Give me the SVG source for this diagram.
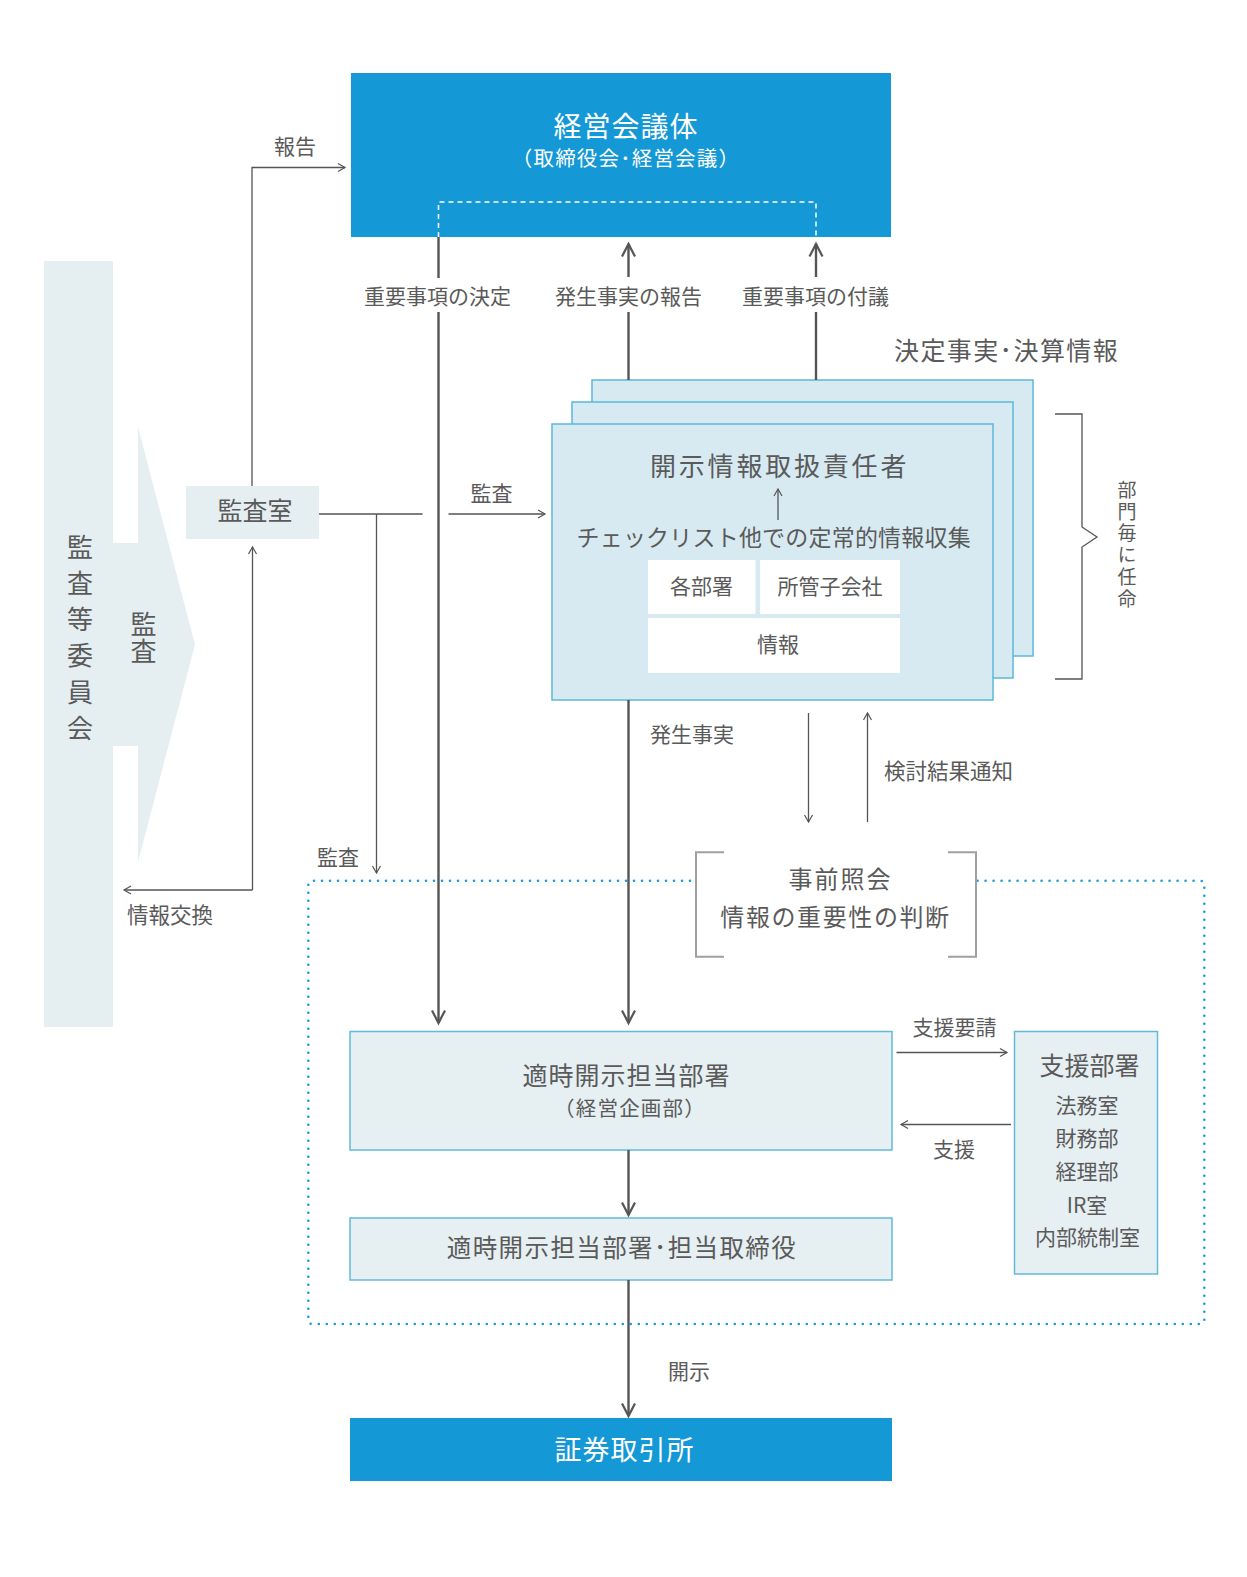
<svg xmlns="http://www.w3.org/2000/svg" width="1247" height="1577" viewBox="0 0 1247 1577">
<style>
text{font-family:"Noto Sans CJK JP","Noto Sans",sans-serif;fill:#5a5a5a;}
.w{fill:#ffffff;}
.mid{text-anchor:middle;}
.vt{writing-mode:vertical-rl;}
.blue{fill:#1598d6;}
.band{fill:#e5eff2;}
.stack{fill:#d7eaf2;stroke:#5bb8d8;stroke-width:1.5;}
.box{fill:#e6eff2;stroke:#62bada;stroke-width:1.5;}
.wb{fill:#ffffff;}
.thick{fill:none;stroke:#555;stroke-width:2.4;}
.thin{fill:none;stroke:#555;stroke-width:1.3;}
.brk{fill:none;stroke:#a0a0a0;stroke-width:2;}
.dot{fill:none;stroke:#1a9ad8;stroke-width:2.6;stroke-dasharray:0 8;stroke-linecap:round;}
.dash{fill:none;stroke:#ffffff;stroke-width:1.5;stroke-dasharray:5 4;}
</style>
<defs>
<marker id="ah" viewBox="-15 -9 18 18" refX="0" refY="0" markerWidth="18" markerHeight="18" orient="auto" markerUnits="userSpaceOnUse" style="overflow:visible"><path d="M-12.5,-6.5 L0,0 L-12.5,6.5" fill="none" stroke="#555" stroke-width="2.2"/></marker>
<marker id="at" viewBox="-9 -6 11 12" refX="0" refY="0" markerWidth="11" markerHeight="12" orient="auto" markerUnits="userSpaceOnUse" style="overflow:visible"><path d="M-7,-4 L0,0 L-7,4" fill="none" stroke="#555" stroke-width="1.2"/></marker>
</defs>
<rect width="1247" height="1577" fill="#ffffff"/>

<g id="audit-committee">
<rect class="band" x="44" y="261" width="69" height="766"/>
<polygon class="band" points="112,543 138,543 138,427 195,644.5 138,862 138,746 112,746"/>
<text x="80" y="534" class="vt" font-size="26" letter-spacing="10.2">監査等委員会</text>
<text x="143.5" y="611" class="vt" font-size="26" letter-spacing="1.2">監査</text>
</g>

<g id="audit-office">
<rect class="band" x="186" y="486" width="133" height="53"/>
<text x="255" y="520" class="mid" font-size="25">監査室</text>
</g>

<g id="management">
<rect class="blue" x="351" y="73" width="540" height="164"/>
<text x="626" y="137" class="mid w" font-size="28" letter-spacing="1">経営会議体</text>
<text x="626" y="165.5" class="mid w" font-size="20.5" letter-spacing="1.2">（取締役会･経営会議）</text>
<path class="dash" d="M438.5,237 V202 H816 V237"/>
</g>

<g id="disclosure-officer">
<rect class="stack" x="592" y="380" width="441" height="276"/>
<rect class="stack" x="572" y="402" width="441" height="276"/>
<rect class="stack" x="552" y="424" width="441" height="276"/>
<text x="650" y="476" font-size="26" letter-spacing="2.8">開示情報取扱責任者</text>
<path class="thin" d="M778,520 V489" marker-end="url(#at)"/>
<text x="576.5" y="546" font-size="23" letter-spacing="0.2">チェックリスト他での定常的情報収集</text>
<rect class="wb" x="648" y="560" width="107.5" height="54"/>
<rect class="wb" x="760" y="560" width="140" height="54"/>
<rect class="wb" x="648" y="618" width="252" height="55"/>
<text x="701.5" y="594" class="mid" font-size="21">各部署</text>
<text x="830" y="594" class="mid" font-size="21">所管子会社</text>
<text x="778" y="652" class="mid" font-size="21">情報</text>
</g>

<g id="appointment">
<path class="thin" d="M1055,414 H1082 V527 L1097,537 L1082,547 V679 H1055"/>
<text x="1127" y="480" class="vt" font-size="19" letter-spacing="2.8">部門毎に任命</text>
</g>

<g id="decided-facts-label">
<text x="894" y="360" font-size="25" letter-spacing="1.4">決定事実･決算情報</text>
</g>

<g id="prior-inquiry">
<path class="dot" d="M690,880.7 H312.5 Q308.3,880.7 308.3,885 V1320 Q308.3,1324 312.5,1324 H1200 Q1204.3,1324 1204.3,1320 V885 Q1204.3,880.7 1200,880.7 H977"/>
<path class="brk" d="M724,852.3 H696 V956.7 H724"/>
<path class="brk" d="M948,852.3 H976 V956.7 H948"/>
<text x="840.5" y="888" class="mid" font-size="24" letter-spacing="2">事前照会</text>
<text x="835.5" y="926" class="mid" font-size="24" letter-spacing="1.6">情報の重要性の判断</text>
</g>

<g id="timely-dept">
<rect class="box" x="350" y="1031.5" width="542" height="118.5"/>
<text x="626.5" y="1085" class="mid" font-size="25" letter-spacing="1">適時開示担当部署</text>
<text x="630" y="1116" class="mid" font-size="20.5" letter-spacing="1.2">（経営企画部）</text>
</g>

<g id="timely-officer">
<rect class="box" x="350" y="1218" width="542" height="62"/>
<text x="622" y="1257" class="mid" font-size="24.5" letter-spacing="1.4">適時開示担当部署･担当取締役</text>
</g>

<g id="support">
<rect class="box" x="1014.5" y="1031.5" width="143" height="242.5"/>
<text x="1089.5" y="1075" class="mid" font-size="25">支援部署</text>
<text x="1087" y="1113" class="mid" font-size="21">法務室</text>
<text x="1087" y="1146" class="mid" font-size="21">財務部</text>
<text x="1087" y="1179" class="mid" font-size="21">経理部</text>
<text x="1087" y="1213" class="mid" font-size="21">IR室</text>
<text x="1087.5" y="1245" class="mid" font-size="21">内部統制室</text>
</g>

<g id="exchange">
<rect class="blue" x="350" y="1418" width="542" height="63"/>
<text x="624.5" y="1460" class="mid w" font-size="27" letter-spacing="1">証券取引所</text>
</g>

<g id="connectors">
<path class="thick" d="M438.5,237 V278"/>
<path class="thick" d="M438.5,312 V1023" marker-end="url(#ah)"/>
<path class="thick" d="M628.5,277 V244" marker-end="url(#ah)"/>
<path class="thick" d="M628.5,312 V380"/>
<path class="thick" d="M816,277 V244" marker-end="url(#ah)"/>
<path class="thick" d="M816,312 V380"/>
<path class="thick" d="M628.5,700 V1023" marker-end="url(#ah)"/>
<path class="thick" d="M628.5,1150 V1215" marker-end="url(#ah)"/>
<path class="thick" d="M628.5,1280 V1416" marker-end="url(#ah)"/>
<path class="thin" d="M808.5,713 V822" marker-end="url(#at)"/>
<path class="thin" d="M867.5,822 V713" marker-end="url(#at)"/>
<path class="thin" d="M896.5,1052.5 H1007" marker-end="url(#at)"/>
<path class="thin" d="M1011,1124.5 H901" marker-end="url(#at)"/>
<path class="thin" d="M252,486 V167.5 H345" marker-end="url(#at)"/>
<path class="thin" d="M319,514 H422.5"/>
<path class="thin" d="M448.5,514 H545" marker-end="url(#at)"/>
<path class="thin" d="M376.5,514 V873" marker-end="url(#at)"/>
<path class="thin" d="M252.5,890 V547" marker-end="url(#at)"/>
<path class="thin" d="M252.5,890 H124" marker-end="url(#at)"/>
<text x="437.5" y="303.5" class="mid" font-size="21">重要事項の決定</text>
<text x="628.5" y="303.5" class="mid" font-size="21">発生事実の報告</text>
<text x="815.5" y="303.5" class="mid" font-size="21">重要事項の付議</text>
<text x="295" y="154" class="mid" font-size="21">報告</text>
<text x="491.5" y="501" class="mid" font-size="21">監査</text>
<text x="338" y="865" class="mid" font-size="21">監査</text>
<text x="127" y="923" font-size="21.5">情報交換</text>
<text x="650" y="742" font-size="21">発生事実</text>
<text x="884" y="779" font-size="21.5">検討結果通知</text>
<text x="954.5" y="1035" class="mid" font-size="21">支援要請</text>
<text x="954" y="1157" class="mid" font-size="21">支援</text>
<text x="668" y="1379" font-size="21">開示</text>
</g>
</svg>
